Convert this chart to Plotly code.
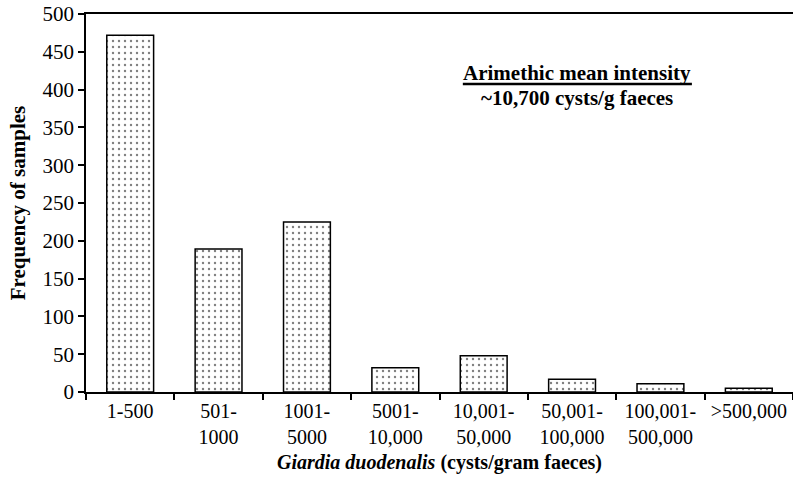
import plotly.graph_objects as go

categories = ["1-500", "501-<br>1000", "1001-<br>5000", "5001-<br>10,000",
              "10,001-<br>50,000", "50,001-<br>100,000", "100,001-<br>500,000", ">500,000"]
frequency = [472, 189, 225, 32, 48, 17, 11, 5]
y_ticks = [0, 50, 100, 150, 200, 250, 300, 350, 400, 450, 500]

FONT = "Liberation Serif"

fig = go.Figure()
fig.add_trace(go.Bar(
    x=categories, y=frequency, width=0.53,
    marker=dict(color="white", line=dict(color="black", width=1.5),
                pattern=dict(shape=".", fgcolor="black", bgcolor="white", size=6, solidity=0.12)),
))

fig.add_annotation(x=0.695, y=0.845, xref="paper", yref="paper", showarrow=False,
                   xanchor="center", yanchor="middle",
                   text="<b>Arimethic mean intensity</b>", font=dict(family=FONT, size=21, color="black"))
fig.add_annotation(x=0.695, y=0.778, xref="paper", yref="paper", showarrow=False,
                   xanchor="center", yanchor="middle",
                   text="<b>~10,700 cysts/g faeces</b>", font=dict(family=FONT, size=21, color="black"))
fig.add_shape(type="line", xref="paper", yref="paper", x0=0.533, x1=0.857, y0=0.815, y1=0.815,
              line=dict(color="black", width=2.5))

fig.update_layout(
    width=793, height=481,
    margin=dict(l=86, r=0, t=14, b=89),
    paper_bgcolor="white", plot_bgcolor="white",
    showlegend=False,
    font=dict(family=FONT, size=20, color="black"),
    xaxis=dict(
        automargin=False,
        showline=True, linecolor="black", linewidth=1.5, mirror=True,
        ticks="outside", tickson="boundaries", ticklen=6, tickcolor="black", tickwidth=1.5,
        range=[-0.5, 7.5], tickfont=dict(size=20), tickangle=0,
        title=dict(text="<i>Giardia duodenalis</i> (cysts/gram faeces)",
                   font=dict(size=20, weight="bold"), standoff=8),
    ),
    yaxis=dict(
        automargin=False,
        range=[0, 500], tickvals=y_ticks, showgrid=False, zeroline=False,
        showline=True, linecolor="black", linewidth=1.5,
        ticks="outside", ticklen=6, tickcolor="black", tickwidth=1.5,
        tickfont=dict(size=21),
        title=dict(text="<b>Frequency of samples</b>", font=dict(size=21), standoff=11),
    ),
)

fig.write_html("out.html", config={"displayModeBar": False},
               post_script="document.body.style.margin='0';")
